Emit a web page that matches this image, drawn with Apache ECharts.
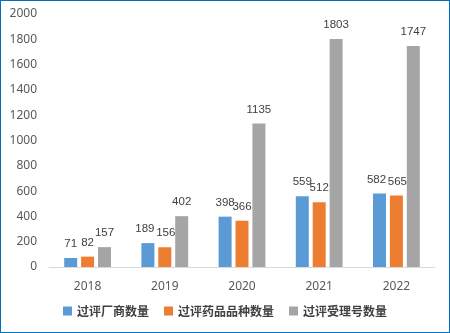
<!DOCTYPE html>
<html><head><meta charset="utf-8">
<script src="https://cdn.jsdelivr.net/npm/echarts@6/dist/echarts.min.js"></script>
<style>
html,body{margin:0;padding:0;background:#fff;}
#wrap{width:450px;height:333px;box-sizing:border-box;border:1.5px solid #0070C0;position:relative;}
#c{position:absolute;left:0;top:0;width:450px;height:333px;}
</style></head>
<body><div id="wrap"></div><div id="c"></div>
<script>
const categories = ['2018','2019','2020','2021','2022'];
const seriesNames = ['过评厂商数量','过评药品品种数量','过评受理号数量'];
const makers = [71,189,398,559,582];
const varieties = [82,156,366,512,565];
const acceptance = [157,402,1135,1803,1747];
const colors = ['#5B9BD5','#ED7D31','#A5A5A5'];
const font = '"Noto Sans","Noto Sans CJK SC",sans-serif';
// small horizontal nudges for crowded labels (per category index)
const labelNudge = [
  [0,-3,0,0,-3],
  [0,1,0,0,1],
  [0,0,0,0,0]
];
const chart = echarts.init(document.getElementById('c'));
const mk = (si, data) => ({
  name: seriesNames[si], type:'bar', barWidth:13, barGap:'30%',
  data: data.map((v,i)=>({value:v, label:{offset:[labelNudge[si][i],0]}})),
  itemStyle:{color:colors[si]},
  label:{show:true, position:'top', distance:8, color:'#404040', fontSize:11.5, fontFamily:'"Liberation Sans",Arial,sans-serif'}
});
chart.setOption({
  animation:false,
  grid:{left:49,right:15,top:14,bottom:66},
  legend:{bottom:11,left:'center',itemWidth:9,itemHeight:9,itemGap:15,icon:'rect',
    textStyle:{color:'#404040',fontSize:12,fontWeight:'bold',fontFamily:'"Noto Sans CJK SC",sans-serif'}},
  xAxis:{type:'category',data:categories,
    axisLine:{lineStyle:{color:'#D9D9D9'}},axisTick:{show:false},
    axisLabel:{color:'#595959',fontSize:12,fontFamily:font,margin:14}},
  yAxis:{type:'value',min:0,max:2000,interval:200,
    splitLine:{show:false},axisLine:{show:false},axisTick:{show:false},
    axisLabel:{color:'#595959',fontSize:12,fontFamily:font,margin:12,formatter:v=>String(v)}},
  series:[mk(0,makers),mk(1,varieties),mk(2,acceptance)]
});
</script></body></html>
